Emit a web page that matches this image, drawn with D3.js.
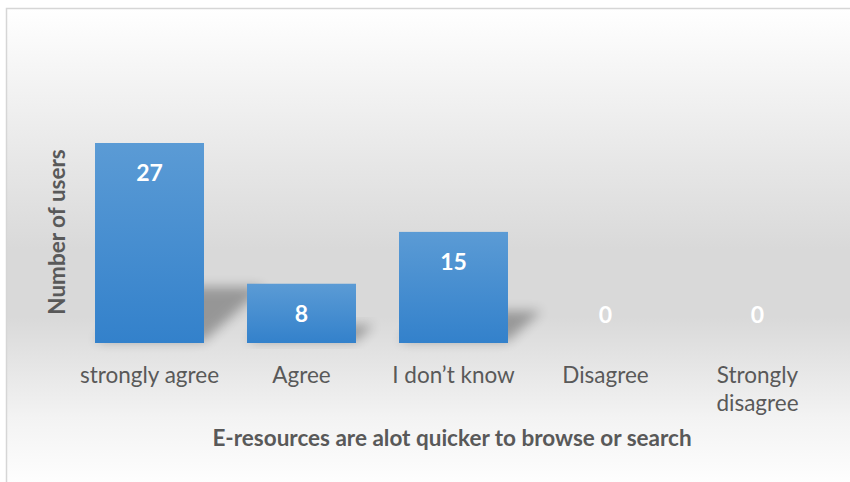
<!DOCTYPE html>
<html>
<head>
<meta charset="utf-8">
<script src="https://cdn.jsdelivr.net/npm/d3@7"></script>
<style>
  body { margin: 0; background: #fff; }
  svg { display: block; }
  text { font-family: Lato, "Open Sans", sans-serif; }
</style>
</head>
<body>
<svg id="chart"></svg>
<script>
var categories = ["strongly agree", "Agree", "I don\u2019t know", "Disagree", "Strongly disagree"];
var values = [27, 8, 15, 0, 0];
var yTitle = "Number of users";
var xTitle = "E-resources are alot quicker to browse or search";

var width = 850, height = 482;
var svg = d3.select("#chart").attr("width", width).attr("height", height);
var defs = svg.append("defs");

// background gradient, light at top and bottom, grey in the middle
var bg = defs.append("linearGradient").attr("id", "bg")
	.attr("x1", 0).attr("y1", 0).attr("x2", 0).attr("y2", 1);
[[0, "#ffffff"], [0.5, "#d9d9d9"], [0.64, "#d9d9d9"], [0.85, "#f3f3f3"], [1, "#ffffff"]]
	.forEach(function (s) { bg.append("stop").attr("offset", s[0]).attr("stop-color", s[1]); });

var barGrad = defs.append("linearGradient").attr("id", "barGrad")
	.attr("x1", 0).attr("y1", 0).attr("x2", 0).attr("y2", 1);
barGrad.append("stop").attr("offset", 0).attr("stop-color", "#5b9bd5");
barGrad.append("stop").attr("offset", 1).attr("stop-color", "#3381cb");

defs.append("filter").attr("id", "blur")
	.attr("x", "-50%").attr("y", "-50%").attr("width", "200%").attr("height", "200%")
	.append("feGaussianBlur").attr("stdDeviation", 6);

svg.append("rect")
	.attr("x", 6.5).attr("y", 8.5)
	.attr("width", width).attr("height", height)
	.attr("fill", "url(#bg)")
	.attr("stroke", "#d6d6d6").attr("stroke-width", 1.5);

var x = d3.scaleBand()
	.domain(categories)
	.range([73.5, 833.5])
	.paddingInner(0.283)
	.paddingOuter(0.1415);

var y = d3.scaleLinear()
	.domain([0, 27])
	.range([343, 143]);

var g = svg.append("g");

// perspective shadows
g.selectAll("path.shadow")
	.data(values)
	.enter()
	.append("path")
	.attr("class", "shadow")
	.attr("d", function (d, i) {
		var x0 = x(categories[i]), x1 = x0 + x.bandwidth();
		var b = y(0) - 2, h = y(0) - y(d);
		var dx = 0.3 * h, dy = 0.27 * h;
		return "M" + x0 + "," + b + "L" + x1 + "," + b +
			"L" + (x1 + dx) + "," + (b - dy) + "L" + (x0 + dx) + "," + (b - dy) + "Z";
	})
	.attr("fill", "#000")
	.attr("opacity", 0.3)
	.attr("filter", "url(#blur)");

g.selectAll("rect.bar")
	.data(values)
	.enter()
	.append("rect")
	.attr("class", "bar")
	.attr("x", function (d, i) { return x(categories[i]); })
	.attr("y", d => y(d))
	.attr("width", x.bandwidth())
	.attr("height", d => y(0) - y(d))
	.attr("fill", "url(#barGrad)");

// value labels
g.selectAll("text.value")
	.data(values)
	.enter()
	.append("text")
	.attr("class", "value")
	.attr("x", function (d, i) { return x(categories[i]) + x.bandwidth() / 2; })
	.attr("y", d => Math.min(y(d) + 30, y(0) - 28))
	.attr("dy", "0.36em")
	.attr("text-anchor", "middle")
	.attr("font-size", "23px")
	.attr("font-weight", "bold")
	.attr("fill", "#ffffff")
	.text(d => d);

// category axis, labels wrapped like the original
var xAxis = g.append("g")
	.attr("transform", "translate(0," + y(0) + ")")
	.call(d3.axisBottom(x).tickSize(0).tickPadding(0));
xAxis.select(".domain").remove();
xAxis.selectAll(".tick text").remove();
xAxis.selectAll(".tick").each(function (d) {
	var lines = d == "Strongly disagree" ? ["Strongly", "disagree"] : [d];
	var t = d3.select(this).append("text")
		.attr("text-anchor", "middle")
		.attr("font-size", "22.5px")
		.attr("fill", "#595959");
	lines.forEach(function (l, k) {
		t.append("tspan").attr("x", 0).attr("y", 40 + k * 28).text(l);
	});
});

svg.append("text")
	.attr("transform", "translate(65,232) rotate(-90)")
	.attr("text-anchor", "middle")
	.attr("font-size", "22.5px")
	.attr("font-weight", "bold")
	.attr("fill", "#595959")
	.text(yTitle);

svg.append("text")
	.attr("x", 452)
	.attr("y", 446)
	.attr("text-anchor", "middle")
	.attr("font-size", "22.5px")
	.attr("font-weight", "bold")
	.attr("fill", "#595959")
	.text(xTitle);
</script>
</body>
</html>
